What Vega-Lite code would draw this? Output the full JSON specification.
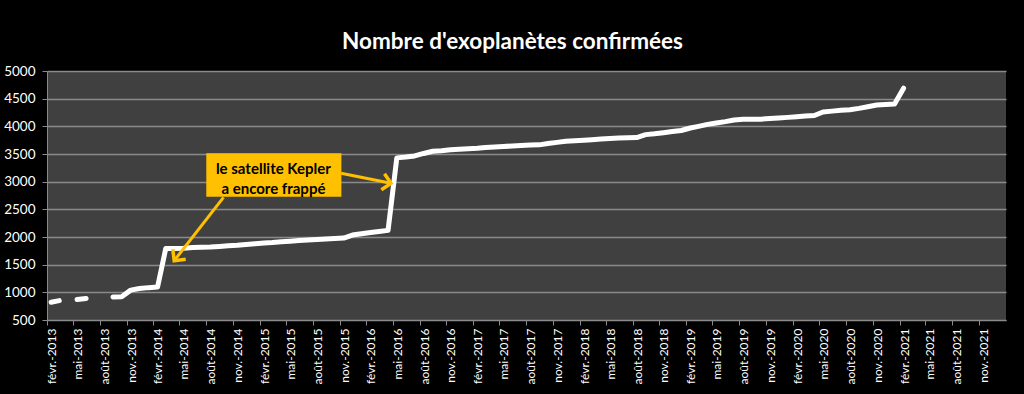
{
  "$schema": "https://vega.github.io/schema/vega-lite/v6.json",
  "width": 959,
  "height": 249,
  "autosize": {"type": "none"},
  "padding": {"left": 47, "top": 71, "right": 18, "bottom": 74},
  "background": "#000000",
  "title": {
    "text": "Nombre d'exoplanètes confirmées",
    "font": "Lato",
    "fontSize": 22.5,
    "fontWeight": "bold",
    "color": "#ffffff",
    "anchor": "middle",
    "frame": "group",
    "dx": -14,
    "dy": 11,
    "baseline": "alphabetic",
    "offset": 4
  },
  "config": {
    "view": {"fill": "#404040", "stroke": null},
    "axis": {
      "gridColor": "#8a8a8a",
      "gridWidth": 1.3,
      "domainColor": "#8a8a8a",
      "tickColor": "#8a8a8a",
      "labelColor": "#ffffff",
      "labelFont": "Lato",
      "labelFontSize": 12,
      "title": null
    }
  },
  "datasets": {
    "series": [
      {"date": "2013-02-15", "n": 820},
      {"date": "2013-03-15", "n": 850},
      {"date": "2013-04-15", "n": null},
      {"date": "2013-05-15", "n": 870},
      {"date": "2013-06-15", "n": 890},
      {"date": "2013-07-15", "n": null},
      {"date": "2013-08-15", "n": null},
      {"date": "2013-09-15", "n": 915},
      {"date": "2013-10-15", "n": 920},
      {"date": "2013-11-15", "n": 1040},
      {"date": "2013-12-15", "n": 1070},
      {"date": "2014-01-15", "n": 1085},
      {"date": "2014-02-15", "n": 1095},
      {"date": "2014-03-15", "n": 1790},
      {"date": "2014-04-15", "n": 1790},
      {"date": "2014-05-15", "n": 1795},
      {"date": "2014-06-15", "n": 1810},
      {"date": "2014-07-15", "n": 1815},
      {"date": "2014-08-15", "n": 1820},
      {"date": "2014-09-15", "n": 1830},
      {"date": "2014-10-15", "n": 1840},
      {"date": "2014-11-15", "n": 1850},
      {"date": "2014-12-15", "n": 1865},
      {"date": "2015-01-15", "n": 1880},
      {"date": "2015-02-15", "n": 1890},
      {"date": "2015-03-15", "n": 1900},
      {"date": "2015-04-15", "n": 1915},
      {"date": "2015-05-15", "n": 1925},
      {"date": "2015-06-15", "n": 1935},
      {"date": "2015-07-15", "n": 1945},
      {"date": "2015-08-15", "n": 1955},
      {"date": "2015-09-15", "n": 1965},
      {"date": "2015-10-15", "n": 1972},
      {"date": "2015-11-15", "n": 1980},
      {"date": "2015-12-15", "n": 2035},
      {"date": "2016-01-15", "n": 2060},
      {"date": "2016-02-15", "n": 2080},
      {"date": "2016-03-15", "n": 2100},
      {"date": "2016-04-15", "n": 2120},
      {"date": "2016-05-15", "n": 3430},
      {"date": "2016-06-15", "n": 3445},
      {"date": "2016-07-15", "n": 3465},
      {"date": "2016-08-15", "n": 3510},
      {"date": "2016-09-15", "n": 3550},
      {"date": "2016-10-15", "n": 3560},
      {"date": "2016-11-15", "n": 3575},
      {"date": "2016-12-15", "n": 3585},
      {"date": "2017-01-15", "n": 3595},
      {"date": "2017-02-15", "n": 3605},
      {"date": "2017-03-15", "n": 3618},
      {"date": "2017-04-15", "n": 3626},
      {"date": "2017-05-15", "n": 3635},
      {"date": "2017-06-15", "n": 3645},
      {"date": "2017-07-15", "n": 3655},
      {"date": "2017-08-15", "n": 3662},
      {"date": "2017-09-15", "n": 3665},
      {"date": "2017-10-15", "n": 3690},
      {"date": "2017-11-15", "n": 3710},
      {"date": "2017-12-15", "n": 3730},
      {"date": "2018-01-15", "n": 3740},
      {"date": "2018-02-15", "n": 3750},
      {"date": "2018-03-15", "n": 3758},
      {"date": "2018-04-15", "n": 3770},
      {"date": "2018-05-15", "n": 3782},
      {"date": "2018-06-15", "n": 3790},
      {"date": "2018-07-15", "n": 3795},
      {"date": "2018-08-15", "n": 3798},
      {"date": "2018-09-15", "n": 3850},
      {"date": "2018-10-15", "n": 3865},
      {"date": "2018-11-15", "n": 3885},
      {"date": "2018-12-15", "n": 3905},
      {"date": "2019-01-15", "n": 3925},
      {"date": "2019-02-15", "n": 3970},
      {"date": "2019-03-15", "n": 4000},
      {"date": "2019-04-15", "n": 4035},
      {"date": "2019-05-15", "n": 4060},
      {"date": "2019-06-15", "n": 4085},
      {"date": "2019-07-15", "n": 4115},
      {"date": "2019-08-15", "n": 4127},
      {"date": "2019-09-15", "n": 4127},
      {"date": "2019-10-15", "n": 4130},
      {"date": "2019-11-15", "n": 4140},
      {"date": "2019-12-15", "n": 4150},
      {"date": "2020-01-15", "n": 4162},
      {"date": "2020-02-15", "n": 4175},
      {"date": "2020-03-15", "n": 4185},
      {"date": "2020-04-15", "n": 4195},
      {"date": "2020-05-15", "n": 4260},
      {"date": "2020-06-15", "n": 4275},
      {"date": "2020-07-15", "n": 4290},
      {"date": "2020-08-15", "n": 4300},
      {"date": "2020-09-15", "n": 4325},
      {"date": "2020-10-15", "n": 4355},
      {"date": "2020-11-15", "n": 4385},
      {"date": "2020-12-15", "n": 4395},
      {"date": "2021-01-15", "n": 4405},
      {"date": "2021-02-15", "n": 4690}
    ],
    "box": [
      {"start": "2014-08-01", "end": "2015-11-07", "low": 2728, "high": 3512, "cx": "2015-03-19", "cy": 3048, "label": "le satellite Kepler\na encore frappé"}
    ],
    "arrows": [
      {"id": "a1", "from": "2014-09-29", "fromN": 2717, "to": "2014-04-13", "toN": 1572},
      {"id": "a2", "from": "2015-11-06", "fromN": 3151, "to": "2016-04-25", "toN": 2970}
    ]
  },
  "layer": [
    {
      "data": {"name": "series"},
      "mark": {"type": "line", "color": "#ffffff", "strokeWidth": 5, "strokeCap": "round", "strokeJoin": "round", "invalid": "break-paths-show-domains", "clip": true},
      "encoding": {
        "x": {
          "field": "date",
          "type": "temporal",
          "scale": {
            "type": "utc",
            "domain": [
              {"year": 2013, "month": 2, "date": 1, "utc": true},
              {"year": 2022, "month": 2, "date": 1, "utc": true}
            ]
          },
          "axis": {
            "values": [
              {"year": 2013, "month": 2, "date": 1, "utc": true},
              {"year": 2013, "month": 5, "date": 1, "utc": true},
              {"year": 2013, "month": 8, "date": 1, "utc": true},
              {"year": 2013, "month": 11, "date": 1, "utc": true},
              {"year": 2014, "month": 2, "date": 1, "utc": true},
              {"year": 2014, "month": 5, "date": 1, "utc": true},
              {"year": 2014, "month": 8, "date": 1, "utc": true},
              {"year": 2014, "month": 11, "date": 1, "utc": true},
              {"year": 2015, "month": 2, "date": 1, "utc": true},
              {"year": 2015, "month": 5, "date": 1, "utc": true},
              {"year": 2015, "month": 8, "date": 1, "utc": true},
              {"year": 2015, "month": 11, "date": 1, "utc": true},
              {"year": 2016, "month": 2, "date": 1, "utc": true},
              {"year": 2016, "month": 5, "date": 1, "utc": true},
              {"year": 2016, "month": 8, "date": 1, "utc": true},
              {"year": 2016, "month": 11, "date": 1, "utc": true},
              {"year": 2017, "month": 2, "date": 1, "utc": true},
              {"year": 2017, "month": 5, "date": 1, "utc": true},
              {"year": 2017, "month": 8, "date": 1, "utc": true},
              {"year": 2017, "month": 11, "date": 1, "utc": true},
              {"year": 2018, "month": 2, "date": 1, "utc": true},
              {"year": 2018, "month": 5, "date": 1, "utc": true},
              {"year": 2018, "month": 8, "date": 1, "utc": true},
              {"year": 2018, "month": 11, "date": 1, "utc": true},
              {"year": 2019, "month": 2, "date": 1, "utc": true},
              {"year": 2019, "month": 5, "date": 1, "utc": true},
              {"year": 2019, "month": 8, "date": 1, "utc": true},
              {"year": 2019, "month": 11, "date": 1, "utc": true},
              {"year": 2020, "month": 2, "date": 1, "utc": true},
              {"year": 2020, "month": 5, "date": 1, "utc": true},
              {"year": 2020, "month": 8, "date": 1, "utc": true},
              {"year": 2020, "month": 11, "date": 1, "utc": true},
              {"year": 2021, "month": 2, "date": 1, "utc": true},
              {"year": 2021, "month": 5, "date": 1, "utc": true},
              {"year": 2021, "month": 8, "date": 1, "utc": true},
              {"year": 2021, "month": 11, "date": 1, "utc": true}
            ],
            "tickCount": 100,
            "labelExpr": "['janv.','févr.','mars','avr.','mai','juin','juil.','août','sept.','oct.','nov.','déc.'][utcmonth(datum.value)] + '-' + utcyear(datum.value)",
            "labelAngle": -90,
            "labelAlign": "right",
            "labelBaseline": "middle",
            "labelOffset": 4.5,
            "labelPadding": 3,
            "tickSize": 5,
            "grid": false,
            "labelOverlap": false,
            "labelFontSize": 12
          }
        },
        "y": {
          "field": "n",
          "type": "quantitative",
          "scale": {"domain": [500, 5000], "nice": false, "zero": false},
          "axis": {
            "values": [500, 1000, 1500, 2000, 2500, 3000, 3500, 4000, 4500, 5000],
            "tickCount": 100,
            "format": "d",
            "tickSize": 5,
            "labelPadding": 7,
            "grid": true,
            "labelOverlap": false,
            "labelFontSize": 13.5
          }
        }
      }
    },
    {
      "data": {"name": "box"},
      "mark": {"type": "rect", "color": "#FFC000"},
      "encoding": {
        "x": {"field": "start", "type": "temporal"},
        "x2": {"field": "end"},
        "y": {"field": "low", "type": "quantitative"},
        "y2": {"field": "high"}
      }
    },
    {
      "data": {"name": "box"},
      "mark": {"type": "text", "font": "Lato", "fontWeight": "bold", "fontSize": 15, "color": "#000000", "lineBreak": "\n", "lineHeight": 20, "align": "center", "baseline": "middle", "dy": -10},
      "encoding": {
        "x": {"field": "cx", "type": "temporal"},
        "y": {"field": "cy", "type": "quantitative"},
        "text": {"field": "label"}
      }
    },
    {
      "data": {"name": "arrows"},
      "mark": {"type": "rule", "color": "#FFC000", "strokeWidth": 3},
      "encoding": {
        "x": {"field": "from", "type": "temporal"},
        "x2": {"field": "to"},
        "y": {"field": "fromN", "type": "quantitative"},
        "y2": {"field": "toN"}
      }
    },
    {
      "data": {"name": "arrows"},
      "transform": [{"filter": "datum.id === 'a1'"}],
      "mark": {"type": "point", "shape": "M-0.8,0.8L0,0L0.8,0.8", "filled": false, "stroke": "#FFC000", "strokeWidth": 3.5, "size": 420, "angle": 218, "opacity": 1, "strokeJoin": "miter"},
      "encoding": {
        "x": {"field": "to", "type": "temporal"},
        "y": {"field": "toN", "type": "quantitative"}
      }
    },
    {
      "data": {"name": "arrows"},
      "transform": [{"filter": "datum.id === 'a2'"}],
      "mark": {"type": "point", "shape": "M-0.8,0.8L0,0L0.8,0.8", "filled": false, "stroke": "#FFC000", "strokeWidth": 3.5, "size": 420, "angle": 101, "opacity": 1, "strokeJoin": "miter"},
      "encoding": {
        "x": {"field": "to", "type": "temporal"},
        "y": {"field": "toN", "type": "quantitative"}
      }
    }
  ]
}
